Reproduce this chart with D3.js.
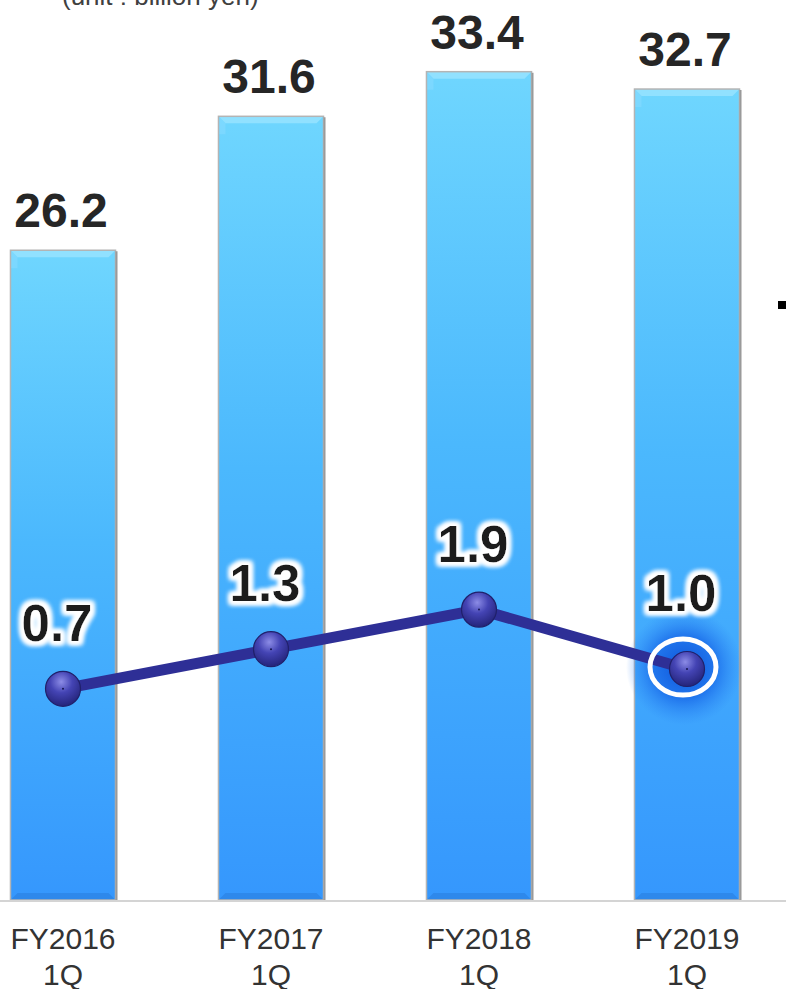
<!DOCTYPE html>
<html>
<head>
<meta charset="utf-8">
<script src="https://cdn.jsdelivr.net/npm/d3@7/dist/d3.min.js"></script>
<style>
  html, body { margin: 0; padding: 0; background: #fff; }
  svg { display: block; }
  text { font-family: Arial, "Liberation Sans", sans-serif; }
</style>
</head>
<body>
<svg id="chart" width="786" height="989"></svg>
<script>
// ---- data ----
const categories = ["FY2016\n1Q", "FY2017\n1Q", "FY2018\n1Q", "FY2019\n1Q"];
const salesValues = [26.2, 31.6, 33.4, 32.7];
const profitValues = [0.7, 1.3, 1.9, 1.0];
const salesLabels = ["26.2", "31.6", "33.4", "32.7"];
const profitLabels = ["0.7", "1.3", "1.9", "1.0"];
const unitText = "(unit : billion yen)";
const highlightIndex = 3;

const W = 786, H = 989;
const svg = d3.select("#chart");
const defs = svg.append("defs");

// bar gradient
const bg = defs.append("linearGradient").attr("id", "barGrad")
  .attr("x1", 0).attr("y1", 0).attr("x2", 0).attr("y2", 1);
bg.append("stop").attr("offset", "0%").attr("stop-color", "#6fd6fe");
bg.append("stop").attr("offset", "45%").attr("stop-color", "#4bb8fd");
bg.append("stop").attr("offset", "100%").attr("stop-color", "#3597fd");

// marker gradient
const mg = defs.append("radialGradient").attr("id", "markGrad")
  .attr("cx", "45%").attr("cy", "30%").attr("r", "70%");
mg.append("stop").attr("offset", "0%").attr("stop-color", "#8c8ce6");
mg.append("stop").attr("offset", "45%").attr("stop-color", "#4444b4");
mg.append("stop").attr("offset", "100%").attr("stop-color", "#24247a");

// highlight glow
const hg = defs.append("radialGradient").attr("id", "glowGrad");
hg.append("stop").attr("offset", "0%").attr("stop-color", "#0a4fd8").attr("stop-opacity", 0.95);
hg.append("stop").attr("offset", "55%").attr("stop-color", "#1462e6").attr("stop-opacity", 0.7);
hg.append("stop").attr("offset", "100%").attr("stop-color", "#2a80f5").attr("stop-opacity", 0);

// white halo filter for line labels
const f = defs.append("filter").attr("id", "halo")
  .attr("x", "-30%").attr("y", "-30%").attr("width", "160%").attr("height", "160%");
f.append("feMorphology").attr("in", "SourceAlpha").attr("operator", "dilate").attr("radius", 3).attr("result", "d");
f.append("feGaussianBlur").attr("in", "d").attr("stdDeviation", 2.5).attr("result", "b");
f.append("feFlood").attr("flood-color", "#ffffff").attr("result", "c");
f.append("feComposite").attr("in", "c").attr("in2", "b").attr("operator", "in").attr("result", "h");
const fm = f.append("feMerge");
fm.append("feMergeNode").attr("in", "h");
fm.append("feMergeNode").attr("in", "h");
fm.append("feMergeNode").attr("in", "h");
fm.append("feMergeNode").attr("in", "SourceGraphic");

// ---- scales ----
const x = d3.scaleBand().domain(categories).range([-41, 791])
  .paddingInner(0.495).paddingOuter(0.2475);
const yBar = d3.scaleLinear().domain([0, 35]).range([900, 900 - 35 * 24.8]);
const yLine = d3.scaleLinear().domain([0, 2]).range([735, 603]);

// unit text
svg.append("text").attr("x", 62).attr("y", 5)
  .attr("font-size", 26).attr("fill", "#404040").text(unitText);

// small legend fragment at right edge
svg.append("rect").attr("x", 778).attr("y", 301).attr("width", 8).attr("height", 8).attr("fill", "#000");

// bars
const bars = svg.append("g");
categories.forEach((c, i) => {
  const x0 = x(c), bw = x.bandwidth();
  const y0 = yBar(salesValues[i]), y1 = yBar(0);
  const g = bars.append("g");
  g.append("rect").attr("x", x0).attr("y", y0).attr("width", bw).attr("height", y1 - y0)
    .attr("fill", "url(#barGrad)");
  const b = 7;
  g.append("path").attr("d", `M${x0},${y0} L${x0 + bw},${y0} L${x0 + bw - b},${y0 + b} L${x0 + b},${y0 + b} Z`)
    .attr("fill", "#9ae4ff").attr("opacity", 0.8);
  g.append("path").attr("d", `M${x0},${y0} L${x0 + b},${y0 + b} L${x0 + b},${y0 + 18} L${x0},${y0 + 18} Z`)
    .attr("fill", "#8adcff").attr("opacity", 0.5);
  g.append("path").attr("d", `M${x0},${y1} L${x0 + bw},${y1} L${x0 + bw - b},${y1 - b} L${x0 + b},${y1 - b} Z`)
    .attr("fill", "#2a7fe0").attr("opacity", 0.6);
  g.append("rect").attr("x", x0).attr("y", y0).attr("width", bw).attr("height", y1 - y0)
    .attr("fill", "none").attr("stroke", "#b4b4b4").attr("stroke-width", 1.5);
  g.append("line").attr("x1", x0 + bw + 1).attr("x2", x0 + bw + 1).attr("y1", y0 + 1).attr("y2", y1)
    .attr("stroke", "#9a9a9a").attr("stroke-width", 2);
});

// baseline
svg.append("line").attr("x1", 0).attr("x2", W).attr("y1", 901).attr("y2", 901)
  .attr("stroke", "#d4d4d4").attr("stroke-width", 2);

// bar value labels
svg.append("g").selectAll("text").data(categories).join("text")
  .attr("x", (c) => x(c) + x.bandwidth() / 2 - 2)
  .attr("y", (c, i) => yBar(salesValues[i]) - 23)
  .attr("text-anchor", "middle").attr("font-size", 48).attr("font-weight", "bold")
  .attr("fill", "#262626")
  .text((c, i) => salesLabels[i]);

// highlight glow
const hc = categories[highlightIndex];
const hx = x(hc) + x.bandwidth() / 2, hy = yLine(profitValues[highlightIndex]);
svg.append("circle").attr("cx", hx - 3).attr("cy", hy - 2).attr("r", 58).attr("fill", "url(#glowGrad)");

// line
const pts = categories.map((c, i) => [x(c) + x.bandwidth() / 2, yLine(profitValues[i])]);
svg.append("path").attr("d", d3.line()(pts))
  .attr("fill", "none").attr("stroke", "#2e2f96").attr("stroke-width", 11).attr("stroke-linejoin", "round");

// markers
const mk = svg.append("g").selectAll("g").data(pts).join("g");
mk.append("circle").attr("cx", d => d[0]).attr("cy", d => d[1]).attr("r", 17.5)
  .attr("fill", "url(#markGrad)").attr("stroke", "#20206a").attr("stroke-width", 1.2);
mk.append("circle").attr("cx", d => d[0]).attr("cy", d => d[1]).attr("r", 1)
  .attr("fill", "#151550");

// highlight ring
svg.append("ellipse").attr("cx", hx - 4).attr("cy", hy - 2).attr("rx", 33).attr("ry", 28)
  .attr("fill", "none").attr("stroke", "#ffffff").attr("stroke-width", 5);

// line value labels
svg.append("g").selectAll("text").data(categories).join("text")
  .attr("x", (c) => x(c) + x.bandwidth() / 2 - 6)
  .attr("y", (c, i) => yLine(profitValues[i]) - (i === highlightIndex ? 58 : 48))
  .attr("text-anchor", "middle").attr("font-size", 51).attr("font-weight", "bold")
  .attr("fill", "#1e1e1e").attr("filter", "url(#halo)")
  .text((c, i) => profitLabels[i]);

// category labels
const cl = svg.append("g").selectAll("text").data(categories).join("text")
  .attr("x", (c) => x(c) + x.bandwidth() / 2)
  .attr("y", 949)
  .attr("text-anchor", "middle").attr("font-size", 30).attr("fill", "#333");
cl.each(function (c) {
  const parts = c.split("\n");
  d3.select(this).selectAll("tspan").data(parts).join("tspan")
    .attr("x", x(c) + x.bandwidth() / 2)
    .attr("dy", (p, j) => j === 0 ? 0 : 36)
    .text(p => p);
});
</script>
</body>
</html>
